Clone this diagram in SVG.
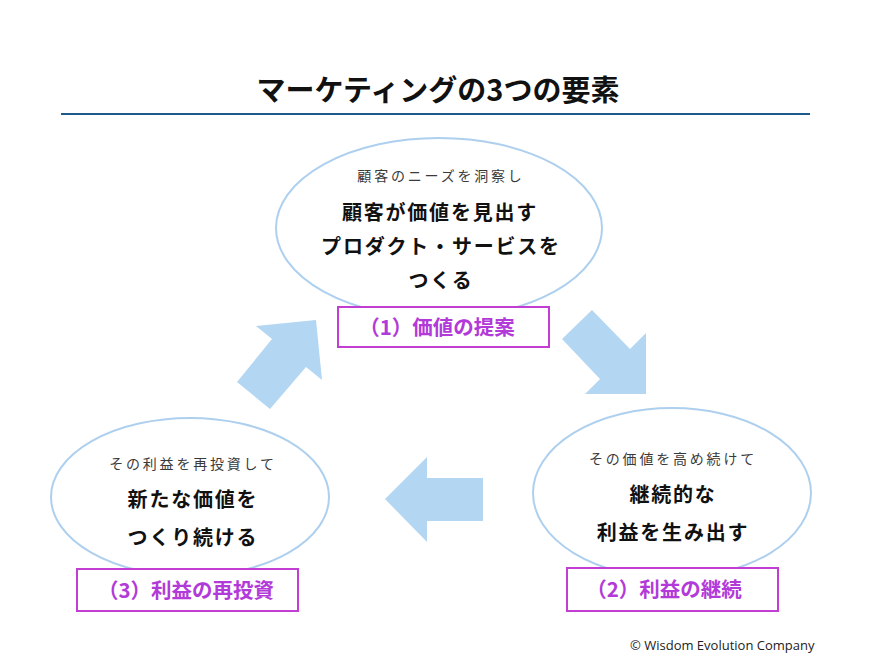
<svg xmlns="http://www.w3.org/2000/svg" width="879" height="661" viewBox="0 0 879 661">
<style>
.jp{font-family:"Noto Sans CJK JP","Noto Sans",sans-serif;text-anchor:middle}
.sub{font-size:14px;fill:#3a3a3a;letter-spacing:2.8px;font-weight:normal}
.main{font-size:20px;fill:#111;font-weight:bold;letter-spacing:1.8px}
.lab{font-size:20.5px;fill:#b23ad8;font-weight:bold}
.ell{fill:#fff;stroke:#aed0ee;stroke-width:2}
.box{fill:#fff;stroke:#c23ed2;stroke-width:2}
.arr{fill:#b3d6f3}
</style>
<rect width="879" height="661" fill="#fff"/>
<text x="438" y="101" class="jp" style="font-size:29px;font-weight:bold;fill:#111">マーケティングの3つの要素</text>
<line x1="61" y1="114" x2="810" y2="114" stroke="#1d5a8a" stroke-width="2"/>
<g id="connectors">
<polygon class="arr" points="237,382 272,339 256,326 316,320 322,380 306,367 270,409"/>
<polygon class="arr" points="592,310 630,349 646,333 646,394 585,394 600,379 562,339"/>
<polygon class="arr" points="385,499 427,457 427,478 483,478 483,521 427,521 427,542"/>
</g>
<g id="node1">
<ellipse class="ell" cx="439" cy="228" rx="163" ry="90"/>
<text x="441" y="181" class="jp sub">顧客のニーズを洞察し</text>
<text x="440" y="220" class="jp main">顧客が価値を見出す</text>
<text x="441" y="254" class="jp main">プロダクト・サービスを</text>
<text x="441" y="288" class="jp main">つくる</text>
<rect class="box" x="338" y="307" width="211" height="40"/>
<text x="437" y="335" class="jp lab">（1）価値の提案</text>
</g>
<g id="node2">
<ellipse class="ell" cx="672" cy="493" rx="139" ry="85"/>
<text x="673" y="464" class="jp sub">その価値を高め続けて</text>
<text x="673" y="502" class="jp main">継続的な</text>
<text x="673" y="540" class="jp main">利益を生み出す</text>
<rect class="box" x="567" y="568" width="211" height="43"/>
<text x="664" y="597" class="jp lab">（2）利益の継続</text>
</g>
<g id="node3">
<ellipse class="ell" cx="190" cy="497" rx="139" ry="79"/>
<text x="193" y="469" class="jp sub">その利益を再投資して</text>
<text x="193" y="507" class="jp main">新たな価値を</text>
<text x="193" y="545" class="jp main">つくり続ける</text>
<rect class="box" x="77" y="569" width="221" height="42"/>
<text x="186" y="598" class="jp lab">（3）利益の再投資</text>
</g>
<text x="630" y="650" style="font-family:'Open Sans','Noto Sans',sans-serif;font-size:13px;fill:#222">© Wisdom Evolution Company</text>
</svg>
